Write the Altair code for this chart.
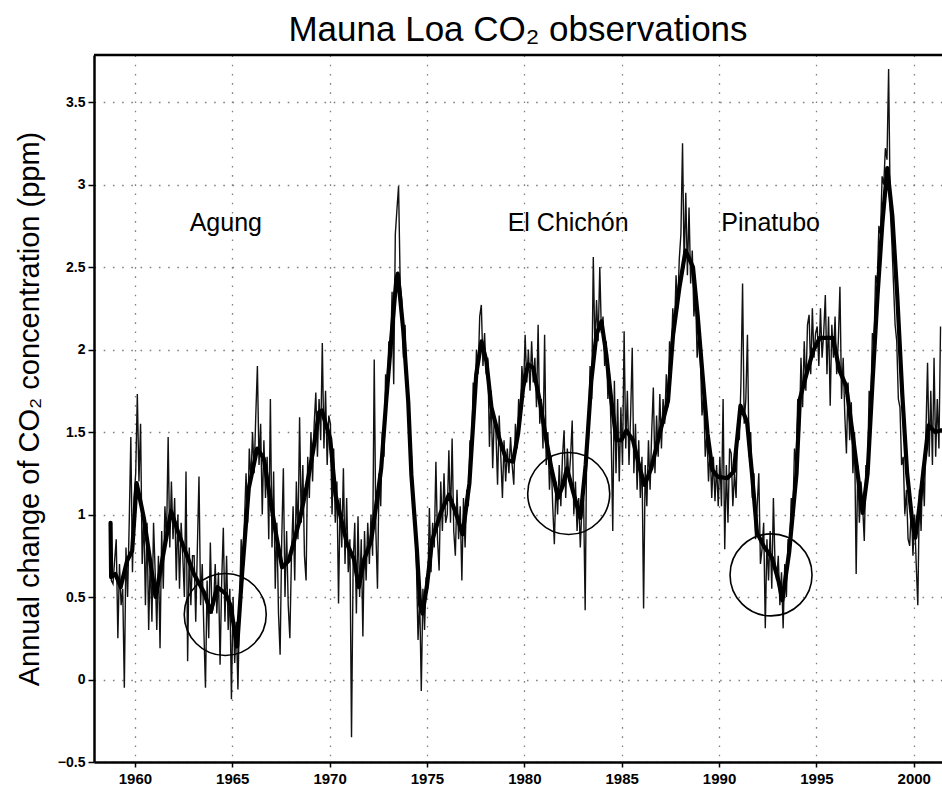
import altair as alt
import pandas as pd

# ---- smoothed (thick) curve: year, ppm/yr ----
thick_years = [1958.75, 1958.78, 1959.0, 1959.27, 1959.6, 1959.86, 1960.09, 1960.46, 1961.06, 1961.49,
               1961.86, 1962.26, 1963.03, 1963.54, 1963.89, 1964.23, 1964.66, 1964.91, 1965.25, 1965.51,
               1965.85, 1966.28, 1966.62, 1967.22, 1967.56, 1967.9, 1968.47, 1968.82, 1969.16, 1969.45,
               1969.6, 1970.03, 1970.3, 1970.56, 1970.9, 1971.25, 1971.5, 1971.78, 1972.13, 1972.47,
               1972.65, 1972.9, 1973.17, 1973.43, 1973.5, 1973.78, 1974.04, 1974.2, 1974.48, 1974.65,
               1974.77, 1975.0, 1975.26, 1975.7, 1976.13, 1976.48, 1976.83, 1977.18, 1977.53, 1977.8,
               1978.05, 1978.31, 1978.74, 1979.08, 1979.42, 1979.68, 1979.94, 1980.19, 1980.45, 1980.79,
               1981.13, 1981.39, 1981.73, 1981.99, 1982.19, 1982.5, 1982.88, 1983.15, 1983.44, 1983.7,
               1983.96, 1984.21, 1984.47, 1984.73, 1984.98, 1985.24, 1985.58, 1985.93, 1986.18, 1986.52,
               1986.95, 1987.38, 1987.64, 1987.97, 1988.28, 1988.66, 1988.9, 1989.15, 1989.41, 1989.66,
               1989.92, 1990.42, 1990.76, 1991.1, 1991.44, 1991.69, 1991.95, 1992.29, 1992.71, 1993.05,
               1993.25, 1993.6, 1993.98, 1994.15, 1994.49, 1994.83, 1995.17, 1995.85, 1996.19, 1996.53,
               1996.86, 1997.2, 1997.37, 1997.63, 1997.88, 1998.14, 1998.39, 1998.64, 1998.9, 1999.15,
               1999.41, 1999.66, 1999.92, 2000.08, 2000.25, 2000.5, 2000.76, 2001.1, 2001.4]
thick_vals = [0.95, 0.62, 0.64, 0.56, 0.72, 0.78, 1.19, 0.98, 0.50, 0.78,
              1.02, 0.88, 0.64, 0.53, 0.41, 0.56, 0.52, 0.45, 0.20, 0.65,
              1.16, 1.40, 1.34, 0.90, 0.68, 0.72, 0.97, 1.17, 1.39, 1.62,
              1.63, 1.46, 1.12, 0.99, 0.82, 0.73, 0.56, 0.73, 0.84, 1.12,
              1.28, 1.68, 2.07, 2.43, 2.46, 2.12, 1.68, 1.24, 0.79, 0.45,
              0.40, 0.57, 0.84, 1.01, 1.12, 1.01, 0.88, 1.19, 1.85, 2.05,
              1.93, 1.65, 1.45, 1.33, 1.32, 1.49, 1.77, 1.91, 1.89, 1.69,
              1.45, 1.28, 1.10, 1.18, 1.28, 1.14, 0.98, 1.30, 1.81, 2.09,
              2.17, 1.97, 1.69, 1.45, 1.45, 1.51, 1.45, 1.28, 1.18, 1.28,
              1.49, 1.69, 2.09, 2.38, 2.60, 2.50, 2.21, 1.85, 1.49, 1.27,
              1.23, 1.22, 1.26, 1.66, 1.56, 1.25, 0.89, 0.81, 0.74, 0.60,
              0.48, 0.77, 1.25, 1.70, 1.85, 1.99, 2.07, 2.07, 1.87, 1.78,
              1.49, 1.17, 1.01, 1.25, 1.80, 2.33, 2.77, 3.10, 2.81, 2.33,
              1.73, 1.25, 0.96, 0.86, 1.01, 1.27, 1.54, 1.50, 1.51]

# ---- monthly (thin) values, starting September 1958 ----
thin_start = 1958 + 8 / 12
thin_1958_1969 = [0.95, 0.60, 0.58, 0.72,
                  0.85, 0.25, 0.70, 0.45, 0.55, -0.05, 0.80, 0.50, 0.95, 1.47, 0.65, 1.10,
                  1.25, 1.73, 1.20, 1.55, 0.70, 1.00, 0.45, 0.95, 0.30, 0.75, 0.35, 0.95,
                  0.65, 0.30, 0.75, 0.19, 0.90, 0.55, 1.05, 0.85, 1.47, 0.80, 1.20, 0.85,
                  1.10, 0.60, 1.00, 0.55, 0.95, 0.75, 0.50, 1.26, 0.11, 0.80, 0.45, 0.75,
                  0.75, 0.35, 0.80, 1.23, 0.45, 0.70, 0.30, -0.05, 0.60, 0.25, 0.83, 0.40,
                  0.45, 0.70, 0.40, 0.65, 0.09, 0.60, 0.92, 0.35, 0.75, 0.30, 0.55, -0.12,
                  0.50, 0.10, 0.35, -0.06, 0.45, 0.85, 0.60, 0.95, 1.25, 0.95, 1.40, 1.20,
                  1.50, 1.25, 1.60, 1.90, 1.30, 1.55, 1.00, 1.45, 1.10, 1.35, 0.85, 1.70,
                  0.80, 1.26, 0.55, 0.95, 0.40, 0.15, 0.85, 1.28, 0.50, 0.90, 0.45, 0.25,
                  0.75, 1.05, 0.60, 1.20, 0.85, 1.59, 0.95, 1.30, 0.75, 0.60, 1.35, 1.10,
                  1.50, 1.20, 1.55, 1.74, 1.35, 1.70, 1.45, 2.04, 1.40, 1.75, 1.30, 1.60]
thin_1970s = [1.55, 1.00, 1.40, 0.95, 1.20, 0.46, 1.10, 0.80, 1.28, 0.70, 1.10, 0.65,
              0.85, -0.35, 0.70, 0.95, 0.40, 0.99, 0.50, 0.85, 0.26, 0.90, 0.60, 0.95,
              0.70, 1.00, 0.75, 1.94, 0.90, 0.55, 1.25, 1.05, 1.50, 1.35, 1.85, 1.70,
              2.05, 1.95, 2.35, 1.79, 2.70, 2.85, 2.99, 2.40, 2.30, 1.95, 2.15, 1.80,
              1.70, 1.45, 1.35, 1.05, 0.95, 0.70, 0.24, 0.50, -0.07, 0.55, 0.30, 0.62,
              0.55, 1.04, 0.65, 0.95, 0.80, 1.32, 0.85, 0.66, 1.20, 0.90, 1.25, 0.95,
              1.00, 1.39, 0.95, 1.46, 0.90, 0.75, 1.15, 0.85, 1.05, 0.60, 1.10, 0.80,
              1.15, 1.05, 1.45, 1.40, 1.80, 1.65, 2.00, 1.85, 2.20, 2.27, 1.90, 2.10,
              1.85, 1.95, 1.41, 1.75, 1.28, 1.60, 1.50, 1.18, 1.60, 1.35, 1.10, 1.45,
              1.20, 1.40, 1.25, 1.47, 1.30, 1.18, 1.55, 1.40, 1.70, 1.55, 1.90, 1.75]
thin_1980s = [2.09, 1.80, 2.00, 1.75, 2.05, 1.80, 1.95, 1.65, 2.15, 1.55, 1.70, 1.40,
              2.09, 1.30, 1.50, 1.15, 1.35, 1.05, 0.82, 1.20, 1.00, 1.30, 1.05, 1.35,
              1.51, 1.10, 1.40, 1.20, 1.35, 1.57, 1.00, 1.20, 0.90, 1.10, 0.80, 1.05,
              1.10, 0.42, 1.50, 1.45, 1.90, 1.70, 2.56, 2.00, 2.30, 2.05, 2.50, 2.10,
              2.20, 1.90, 2.05, 1.70, 1.85, 1.50, 0.90, 1.81, 1.25, 1.70, 1.20, 1.65,
              1.30, 2.11, 1.40, 1.75, 1.30, 1.60, 2.01, 1.25, 1.55, 1.15, 1.45, 1.10,
              1.35, 0.43, 1.30, 1.05, 1.45, 1.15, 1.50, 1.77, 1.25, 1.60, 1.35, 1.73,
              1.40, 1.70, 1.55, 1.85, 1.65, 2.05, 1.95, 2.25, 2.10, 2.45, 2.25, 2.55,
              2.70, 3.25, 2.50, 2.95, 2.45, 2.86, 2.40, 2.60, 2.20, 2.35, 1.95, 2.10,
              1.95, 1.60, 1.73, 1.35, 1.50, 1.20, 1.40, 1.10, 1.35, 1.08, 1.30, 1.05]
thin_1990s = [1.35, 1.05, 1.70, 0.79, 1.30, 0.95, 1.40, 1.37, 1.05, 1.25, 1.10, 1.55,
              1.45, 1.80, 2.40, 1.55, 1.70, 2.09, 1.35, 1.50, 1.10, 1.25, 0.85, 1.05,
              1.25, 0.70, 0.79, 0.95, 0.31, 0.85, 0.60, 0.90, 0.55, 1.10, 0.70, 0.60,
              0.75, 0.45, 0.65, 0.31, 0.70, 0.50, 0.85, 0.80, 1.10, 1.00, 1.40, 1.30,
              1.70, 1.50, 1.95, 1.65, 2.05, 1.75, 2.15, 2.21, 1.85, 2.25, 1.95, 2.10,
              2.14, 1.90, 2.25, 1.95, 2.10, 2.33, 1.85, 2.20, 1.66, 2.15, 1.95, 2.20,
              1.85, 2.05, 2.38, 1.70, 1.95, 1.60, 1.37, 1.80, 1.45, 1.68, 1.25, 1.50,
              0.64, 1.30, 0.95, 1.20, 1.05, 0.84, 1.30, 1.25, 1.75, 1.65, 2.10, 2.05,
              2.45, 2.40, 2.75, 2.70, 3.05, 3.00, 3.22, 3.15, 3.70, 2.85, 2.65, 2.40,
              2.15, 2.05, 1.70, 1.65, 1.30, 1.35, 1.00, 1.15, 0.85, 0.81, 1.05, 0.75]
thin_2000s = [1.00, 0.70, 0.45, 1.15, 0.90, 1.30, 1.05, 1.50, 1.92, 1.35, 1.75, 1.30,
              1.95, 1.35, 1.70, 1.40, 2.14]

# ---- volcanic eruption annotations ----
event_names = ["Agung", "El Chichón", "Pinatubo"]
circle_years = [1964.64, 1982.28, 1992.67]
circle_vals = [0.394, 1.127, 0.634]
label_years = [1964.67, 1982.25, 1992.65]
label_vals = [2.72, 2.72, 2.72]

x_ticks = [1960, 1965, 1970, 1975, 1980, 1985, 1990, 1995, 2000]
y_ticks = [-0.5, 0, 0.5, 1, 1.5, 2, 2.5, 3, 3.5]

thin_all = thin_1958_1969 + thin_1970s + thin_1980s + thin_1990s + thin_2000s
thin_df = pd.DataFrame({
    "year": [thin_start + (i + 0.5) / 12 for i in range(len(thin_all))],
    "value": thin_all,
})
thick_df = pd.DataFrame({"year": thick_years, "value": thick_vals})
circ_df = pd.DataFrame({"year": circle_years, "value": circle_vals})
lab_df = pd.DataFrame({"year": label_years, "value": label_vals, "name": event_names})

W, H = 848, 707
FONT = "Liberation Sans"

xscale = alt.Scale(domain=[1957.9, 2001.45], nice=False, zero=False)
yscale = alt.Scale(domain=[-0.5, 3.785], nice=False, zero=False)

grid_kw = dict(grid=True, gridColor="#808080", gridDash=[1.6, 7.6], gridWidth=1.3,
               domainColor="black", domainWidth=2.5, tickColor="black", tickWidth=1.5,
               labelColor="black", labelFont=FONT, labelFontWeight="bold")

xaxis = alt.Axis(values=x_ticks, format="d", title=None, tickSize=5, labelFontSize=15,
                 labelPadding=4, **grid_kw)
yaxis = alt.Axis(values=y_ticks, format="~g", title="Annual change of CO₂ concentration (ppm)",
                 titleFont=FONT, titleFontSize=29, titleFontWeight="normal", titleColor="black",
                 titlePadding=13, tickSize=6, labelFontSize=14, labelPadding=3, **grid_kw)

X = alt.X("year:Q", scale=xscale, axis=xaxis)
Y = alt.Y("value:Q", scale=yscale, axis=yaxis)

thin = alt.Chart(thin_df).mark_line(color="#111111", strokeWidth=1.4, clip=True).encode(x=X, y=Y)
thick = alt.Chart(thick_df).mark_line(color="black", strokeWidth=4.2, clip=True,
                                      strokeJoin="round", strokeCap="round").encode(x=X, y=Y)
circles = alt.Chart(circ_df).mark_point(shape="circle", filled=False, size=6724,
                                        color="black", strokeWidth=1.6, opacity=1).encode(x=X, y=Y)
labels = alt.Chart(lab_df).mark_text(font=FONT, fontSize=25, color="black",
                                     align="center", baseline="alphabetic").encode(
    x=X, y=Y, text="name:N")
top_border = alt.Chart(pd.DataFrame({"a": [0]})).mark_rule(color="black", strokeWidth=2.5).encode(
    x=alt.value(0), x2=alt.value(W), y=alt.value(0))

chart = alt.layer(thin, thick, circles, labels, top_border).properties(
    width=W, height=H,
    autosize=alt.AutoSizeParams(type="none"),
    padding={"left": 94, "top": 55, "right": 0, "bottom": 26},
    title=alt.TitleParams(text="Mauna Loa CO₂ observations", font=FONT, fontSize=35,
                          fontWeight="normal", color="black", anchor="middle", offset=6),
).configure_view(stroke=None).configure(background="white")

chart.save("out.html", embed_options={"renderer": "svg", "actions": False})
